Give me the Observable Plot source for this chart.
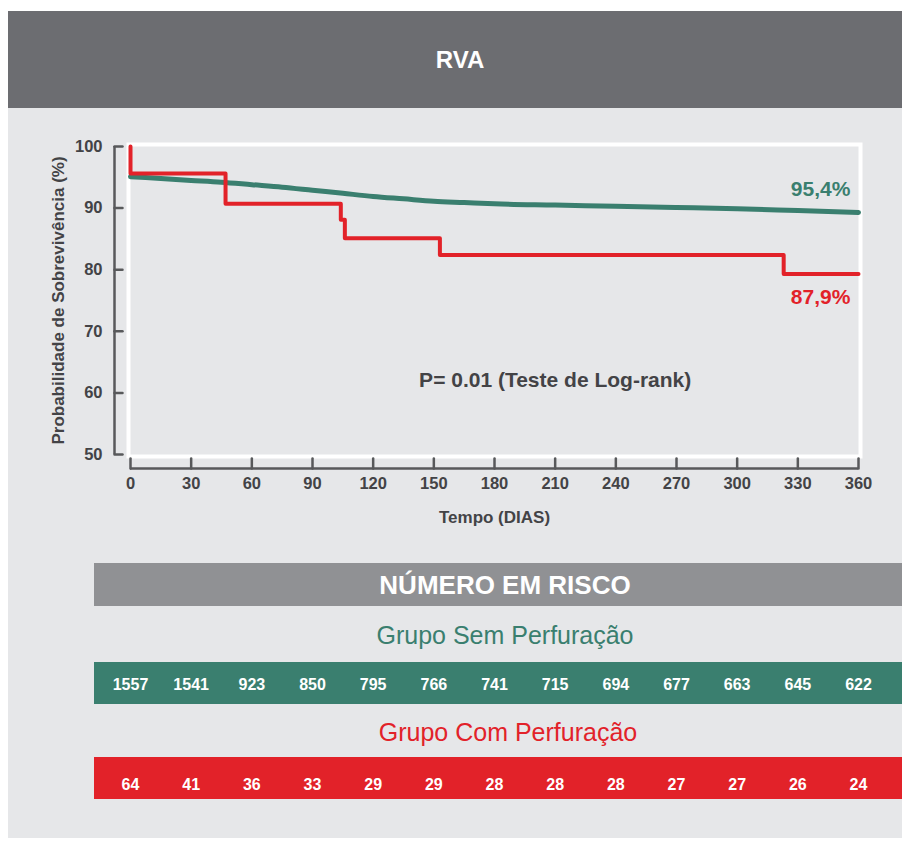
<!DOCTYPE html>
<html>
<head>
<meta charset="utf-8">
<script src="https://cdn.jsdelivr.net/npm/d3@7"></script>
<script src="https://cdn.jsdelivr.net/npm/@observablehq/plot@0.6"></script>
<style>
  html, body { margin: 0; padding: 0; background: #fff; }
  body { font-family: "Liberation Sans", Arial, sans-serif; }
  #page { position: relative; width: 902px; height: 843px; overflow: hidden; background: #fff; }
  .abs { position: absolute; }
  .center { text-align: center; white-space: nowrap; }
</style>
</head>
<body>
<div id="page">
  <div class="abs" style="left:8px;top:11px;width:894px;height:827px;background:#e6e7e9"></div>
  <div class="abs center" id="title" style="left:8px;top:11px;width:894px;height:97px;background:#6c6d71;color:#fff;font-weight:bold;font-size:24px;line-height:97px;padding-left:10px;box-sizing:border-box"></div>
  <div class="abs" id="chart" style="left:0;top:120px"></div>
  <div class="abs center" id="riskHead" style="left:94px;top:563px;width:808px;height:43px;background:#909194;color:#fff;font-weight:bold;font-size:26px;line-height:44px;padding-left:14px;box-sizing:border-box"></div>
  <div class="abs center" id="semHead" style="left:94px;top:616px;width:808px;height:38px;color:#3a7f6f;font-size:25px;line-height:38px;padding-left:14px;box-sizing:border-box"></div>
  <div class="abs" style="left:94px;top:662px;width:808px;height:42px;background:#3a7f6f"></div>
  <div class="abs center" id="comHead" style="left:94px;top:713px;width:808px;height:38px;color:#e22229;font-size:25px;line-height:38px;padding-left:20px;box-sizing:border-box"></div>
  <div class="abs" style="left:94px;top:757px;width:808px;height:42px;background:#e22229"></div>
  <div class="abs" id="table" style="left:0;top:640px"></div>
</div>
<script>
// ---- text ----
const titleText = "RVA";
const yLabel = "Probabilidade de Sobrevivência (%)";
const xLabel = "Tempo (DIAS)";
const pText = "P= 0.01 (Teste de Log-rank)";
const riskTitle = "NÚMERO EM RISCO";
const groups = ["Grupo Sem Perfuração", "Grupo Com Perfuração"];
const endLabels = ["95,4%", "87,9%"];

// ---- ticks ----
const xTicks = [0, 30, 60, 90, 120, 150, 180, 210, 240, 270, 300, 330, 360];
const yTicks = [50, 60, 70, 80, 90, 100];

// ---- survival curves ----
const semDays = [0, 15, 30, 45, 60, 75, 90, 105, 120, 135, 150, 165, 180, 210, 240, 270, 300, 330, 360];
const semSurv = [95.1, 94.8, 94.5, 94.2, 93.8, 93.4, 92.9, 92.4, 91.9, 91.5, 91.1, 90.9, 90.7, 90.5, 90.3, 90.1, 89.9, 89.6, 89.3];
const comDays = [0, 0, 47, 104, 106, 153, 323, 360];
const comSurv = [100, 95.6, 90.7, 88.1, 85.1, 82.4, 79.3, 79.3];

// ---- number at risk ----
const riskDays = [0, 30, 60, 90, 120, 150, 180, 210, 240, 270, 300, 330, 360];
const riskSem = [1557, 1541, 923, 850, 795, 766, 741, 715, 694, 677, 663, 645, 622];
const riskCom = [64, 41, 36, 33, 29, 29, 28, 28, 28, 27, 27, 26, 24];

const GREEN = "#3a7f6f", RED = "#e22229", AXIS = "#58595b", TXT = "#434346";
const FONT = "'Liberation Sans', Arial, sans-serif";
const tickShape = {draw(context, l) { context.moveTo(0, 0); context.lineTo(0, -l); }};

document.getElementById("title").textContent = titleText;
document.getElementById("riskHead").textContent = riskTitle;
document.getElementById("semHead").textContent = groups[0];
document.getElementById("comHead").textContent = groups[1];

const sem = semDays.map((d, i) => ({day: d, s: semSurv[i]}));
const com = comDays.map((d, i) => ({day: d, s: comSurv[i]}));

const chart = Plot.plot({
  width: 902,
  height: 420,
  marginLeft: 130,
  marginRight: 44,
  marginTop: 26,
  marginBottom: 86,
  style: {background: "transparent", fontFamily: FONT, overflow: "visible"},
  x: {domain: [0, 360], axis: null},
  y: {domain: [50, 100], axis: null},
  marks: [
    Plot.frame({stroke: "#fff", strokeWidth: 4, inset: -2}),
    // y axis
    Plot.ruleX([0], {y1: 50, y2: 100, dx: -16, stroke: AXIS, strokeWidth: 2.5}),
    Plot.vector(yTicks, {x: 0, y: d => d, rotate: 90, anchor: "start", length: 8, dx: -16, shape: tickShape, stroke: AXIS, strokeWidth: 2.5}),
    Plot.text(yTicks, {x: 0, y: d => d, text: d => String(d), dx: -28, textAnchor: "end", fill: TXT, fontSize: 16.5, fontWeight: "bold"}),
    // x axis
    Plot.ruleY([50], {x1: 0, x2: 360, dy: 14, stroke: AXIS, strokeWidth: 2.5}),
    Plot.vector(xTicks, {x: d => d, y: 50, rotate: 0, anchor: "start", length: 10, dy: 14, shape: tickShape, stroke: AXIS, strokeWidth: 2.5}),
    Plot.text(xTicks, {x: d => d, y: 50, text: d => String(d), dy: 29, fill: TXT, fontSize: 16.5, fontWeight: "bold"}),
    // axis titles
    Plot.text([yLabel], {frameAnchor: "left", textAnchor: "middle", lineAnchor: "middle", rotate: -90, dx: -72, fill: TXT, fontSize: 17, fontWeight: "bold"}),
    Plot.text([xLabel], {frameAnchor: "bottom", textAnchor: "middle", lineAnchor: "middle", dy: 63, fill: TXT, fontSize: 17, fontWeight: "bold"}),
    // curves
    Plot.line(sem, {x: "day", y: "s", curve: "monotone-x", stroke: GREEN, strokeWidth: 5}),
    Plot.line(com, {x: "day", y: "s", curve: "step-after", stroke: RED, strokeWidth: 4}),
    // annotations
    Plot.text([pText], {x: 210, y: 62, fill: TXT, fontSize: 21, fontWeight: "bold"}),
    Plot.text([endLabels[0]], {x: 356, y: 93, textAnchor: "end", fill: GREEN, fontSize: 21, fontWeight: "bold"}),
    Plot.text([endLabels[1]], {x: 356, y: 75.5, textAnchor: "end", fill: RED, fontSize: 21, fontWeight: "bold"})
  ]
});
document.getElementById("chart").appendChild(chart);

const rows = [];
riskDays.forEach((d, i) => {
  rows.push({day: d, g: groups[0], n: riskSem[i]});
  rows.push({day: d, g: groups[1], n: riskCom[i]});
});

const table = Plot.plot({
  width: 902,
  height: 170,
  marginLeft: 130,
  marginRight: 44,
  marginTop: 0,
  marginBottom: 0,
  style: {background: "transparent", fontFamily: FONT, overflow: "visible"},
  x: {domain: [0, 360], axis: null},
  y: {type: "point", domain: groups, range: [43.5, 144], padding: 0, axis: null},
  marks: [
    Plot.text(rows, {x: "day", y: "g", text: d => String(d.n), fill: "#fff", fontSize: 16, fontWeight: "bold"})
  ]
});
document.getElementById("table").appendChild(table);
</script>
</body>
</html>
